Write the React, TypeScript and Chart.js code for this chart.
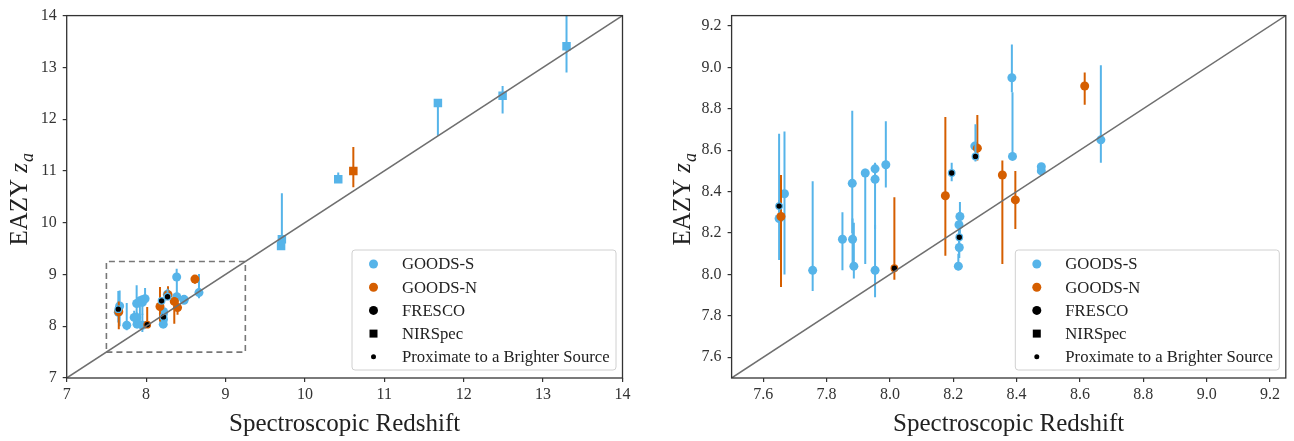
import React, { useEffect, useRef } from "react";
import { Chart, registerables } from "chart.js";

Chart.register(...registerables);

const BLUE = "#56B4E9";
const ORANGE = "#D55E00";
const FONT = "'Liberation Serif', 'DejaVu Serif', serif";

// GOODS-S, circles (spectroscopic z, EAZY z_a, lower / upper error)
const gsZspec = [7.65, 7.667, 7.756, 7.85, 7.881, 7.882, 7.886, 7.922, 7.953, 7.953, 7.953, 7.987, 8.221, 8.218, 8.219, 8.216, 8.385, 8.387, 8.478, 8.478, 8.666, 8.268];
const gsZa = [8.27, 8.39, 8.02, 8.17, 8.44, 8.17, 8.04, 8.49, 8.51, 8.46, 8.02, 8.53, 8.28, 8.24, 8.13, 8.04, 8.95, 8.57, 8.52, 8.5, 8.65, 8.62];
const gsLo = [8.07, 8.0, 7.92, 8.02, 8.2, 8.02, 7.98, 8.05, 8.45, 8.22, 7.89, 8.42, 8.2, 8.1, 8.08, 8.02, 8.88, 8.57, 8.5, 8.49, 8.54, 8.6];
const gsHi = [8.68, 8.69, 8.45, 8.3, 8.79, 8.27, 8.25, 8.51, 8.54, 8.53, 8.24, 8.74, 8.35, 8.3, 8.2, 8.1, 9.11, 8.88, 8.53, 8.51, 9.01, 8.64];

// GOODS-N, circles
const gnZspec = [7.656, 8.175, 8.276, 8.355, 8.396, 8.615];
const gnZa = [8.28, 8.38, 8.61, 8.48, 8.36, 8.91];
const gnLo = [7.94, 8.09, 8.55, 8.05, 8.22, 8.82];
const gnHi = [8.48, 8.76, 8.77, 8.55, 8.5, 8.975];

// FRESCO (black), GOODS-S field
const frsZspec = [7.65, 8.195, 8.219, 8.27];
const frsZa = [8.33, 8.49, 8.18, 8.57];
const frsLo = [8.3, 8.45, 8.16, 8.545];
const frsHi = [8.36, 8.54, 8.2, 8.725];

// FRESCO (black), GOODS-N field
const frnZspec = [8.014];
const frnZa = [8.03];
const frnLo = [7.975];
const frnHi = [8.373];

// NIRSpec, squares, GOODS-S
const nssZspec = [9.7, 9.71, 10.42, 11.675, 12.49, 13.295];
const nssZa = [9.55, 9.68, 10.84, 12.31, 12.45, 13.41];
const nssLo = [9.5, 9.6, 10.8, 11.68, 12.11, 12.9];
const nssHi = [9.62, 10.57, 10.97, 12.34, 12.64, 14.3];

// NIRSpec, squares, GOODS-N
const nsnZspec = [10.61];
const nsnZa = [11.0];
const nsnLo = [10.685];
const nsnHi = [11.46];

// one-to-one line and zoom box
const leftRange = [7, 14];
const rightRange = [7.5, 9.25];
const boxX = [7.5, 9.25, 9.25, 7.5, 7.5];
const boxY = [7.5, 7.5, 9.25, 9.25, 7.5];

// ticks
const leftTicks = [7, 8, 9, 10, 11, 12, 13, 14];
const rightTicks = [7.6, 7.8, 8.0, 8.2, 8.4, 8.6, 8.8, 9.0, 9.2];

const legendLabels = ["GOODS-S", "GOODS-N", "FRESCO", "NIRSpec", "Proximate to a Brighter Source"];
const xTitle = "Spectroscopic Redshift";

function zip(xs: number[], ys: number[], lo: number[], hi: number[]) {
  return xs.map((x, i) => ({ x, y: ys[i], lo: lo[i], hi: hi[i] }));
}

const errorBarPlugin = {
  id: "errbars",
  beforeDatasetDraw(chart: any, args: any) {
    const ds = chart.data.datasets[args.index];
    if (!ds.errColor) return;
    const { ctx, chartArea } = chart;
    const xs = chart.scales.x;
    const ys = chart.scales.y;
    ctx.save();
    ctx.beginPath();
    ctx.rect(chartArea.left, chartArea.top, chartArea.right - chartArea.left, chartArea.bottom - chartArea.top);
    ctx.clip();
    ctx.strokeStyle = ds.errColor;
    ctx.lineWidth = 2;
    ds.data.forEach((p: any) => {
      const px = xs.getPixelForValue(p.x);
      ctx.beginPath();
      ctx.moveTo(px, ys.getPixelForValue(p.lo));
      ctx.lineTo(px, ys.getPixelForValue(p.hi));
      ctx.stroke();
    });
    ctx.restore();
  },
};

const decorPlugin = {
  id: "decor",
  afterDatasetsDraw(chart: any) {
    const { ctx, chartArea } = chart;
    ctx.save();
    ctx.strokeStyle = "#333";
    ctx.lineWidth = 1.3;
    ctx.strokeRect(chartArea.left, chartArea.top, chartArea.right - chartArea.left, chartArea.bottom - chartArea.top);
    ctx.restore();
  },
  afterDraw(chart: any) {
    const { ctx, chartArea } = chart;
    const o = chart.options.plugins.decor;
    // x title
    ctx.save();
    ctx.fillStyle = "#222";
    ctx.font = `${o.titleSize}px ${FONT}`;
    ctx.textAlign = "center";
    ctx.textBaseline = "alphabetic";
    ctx.fillText(xTitle, (chartArea.left + chartArea.right) / 2, o.xTitleY);
    ctx.restore();

    // y title: "EAZY z_a"
    ctx.save();
    const cy = (chartArea.top + chartArea.bottom) / 2 + 3;
    ctx.translate(o.yTitleX, cy);
    ctx.rotate(-Math.PI / 2);
    ctx.fillStyle = "#222";
    const f1 = `${o.titleSize}px ${FONT}`;
    const f2 = `italic ${o.titleSize}px ${FONT}`;
    const f3 = `italic ${Math.round(o.titleSize * 0.7)}px ${FONT}`;
    ctx.font = f1;
    const w1 = ctx.measureText("EAZY ").width;
    ctx.font = f2;
    const w2 = ctx.measureText("z").width;
    ctx.font = f3;
    const w3 = ctx.measureText("a").width;
    let x0 = -(w1 + w2 + w3) / 2;
    ctx.textBaseline = "alphabetic";
    ctx.textAlign = "left";
    ctx.font = f1;
    ctx.fillText("EAZY ", x0, 0);
    ctx.font = f2;
    ctx.fillText("z", x0 + w1, 0);
    ctx.font = f3;
    ctx.fillText("a", x0 + w1 + w2 + 1, o.titleSize * 0.22);
    ctx.restore();

    // legend
    ctx.save();
    const bw = 264;
    const bh = 120;
    const bx = chartArea.right - 6.5 - bw;
    const by = chartArea.bottom - 8 - bh;
    ctx.beginPath();
    ctx.roundRect(bx, by, bw, bh, 3);
    ctx.fillStyle = "rgba(255,255,255,0.85)";
    ctx.fill();
    ctx.strokeStyle = "#d0d0d0";
    ctx.lineWidth = 1;
    ctx.stroke();
    ctx.font = `${o.legendSize}px ${FONT}`;
    ctx.textBaseline = "middle";
    ctx.textAlign = "left";
    legendLabels.forEach((lab, i) => {
      const yy = by + 14 + i * 23.2;
      const mx = bx + 21.5;
      ctx.fillStyle = i === 0 ? BLUE : i === 1 ? ORANGE : "#000";
      ctx.beginPath();
      if (i === 3) {
        ctx.rect(mx - 4, yy - 4, 8, 8);
      } else {
        ctx.arc(mx, yy, i === 4 ? 2.5 : 4.5, 0, Math.PI * 2);
      }
      ctx.fill();
      ctx.fillStyle = "#222";
      ctx.fillText(lab, bx + 50, yy + 1);
    });
    ctx.restore();
  },
};

function makeConfig(range: number[], ticks: number[], decimals: number, yAxisW: number, padRight: number, padTop: number, showBox: boolean, yTitleX: number): any {
  const datasets: any[] = [
    {
      type: "line",
      data: [
        { x: range[0], y: range[0] },
        { x: range[1], y: range[1] },
      ],
      borderColor: "#6f6f6f",
      borderWidth: 1.5,
      pointRadius: 0,
      fill: false,
    },
    {
      data: zip(frsZspec, frsZa, frsLo, frsHi),
      errColor: BLUE,
      backgroundColor: "#000",
      borderColor: BLUE,
      borderWidth: 1.2,
      pointRadius: 3.3,
    },
    {
      data: zip(frnZspec, frnZa, frnLo, frnHi),
      errColor: ORANGE,
      backgroundColor: "#000",
      borderColor: ORANGE,
      borderWidth: 1.2,
      pointRadius: 3.3,
    },
    {
      data: zip(gnZspec, gnZa, gnLo, gnHi),
      errColor: ORANGE,
      backgroundColor: ORANGE,
      borderColor: ORANGE,
      borderWidth: 0,
      pointRadius: 4.5,
    },
    {
      data: zip(nsnZspec, nsnZa, nsnLo, nsnHi),
      errColor: ORANGE,
      backgroundColor: ORANGE,
      borderColor: ORANGE,
      borderWidth: 0,
      pointStyle: "rect",
      pointRadius: 6,
    },
    {
      data: zip(gsZspec, gsZa, gsLo, gsHi),
      errColor: BLUE,
      backgroundColor: BLUE,
      borderColor: BLUE,
      borderWidth: 0,
      pointRadius: 4.5,
    },
    {
      data: zip(nssZspec, nssZa, nssLo, nssHi),
      errColor: BLUE,
      backgroundColor: BLUE,
      borderColor: BLUE,
      borderWidth: 0,
      pointStyle: "rect",
      pointRadius: 6,
    },
  ];
  if (showBox) {
    datasets.push({
      type: "line",
      data: boxX.map((x, i) => ({ x, y: boxY[i] })),
      borderColor: "#777",
      borderWidth: 1.6,
      borderDash: [6, 4],
      pointRadius: 0,
      fill: false,
    });
  }
  const axis = (isX: boolean) => ({
    type: "linear",
    min: range[0],
    max: range[1],
    afterBuildTicks: (scale: any) => {
      scale.ticks = ticks.map((v) => ({ value: v }));
    },
    afterFit: (scale: any) => {
      if (isX) scale.height = 63;
      else scale.width = yAxisW;
    },
    grid: {
      display: true,
      drawOnChartArea: false,
      drawTicks: true,
      tickLength: 4,
      color: "#333",
      lineWidth: 1.2,
    },
    border: { display: false },
    ticks: {
      color: "#333",
      font: { family: FONT, size: 16 },
      padding: isX ? 3 : 6,
      maxRotation: 0,
      autoSkip: false,
      callback: (v: any) => Number(v).toFixed(decimals),
    },
  });
  return {
    type: "scatter",
    data: { datasets },
    options: {
      animation: false,
      responsive: false,
      devicePixelRatio: 1,
      layout: { padding: { left: 0, right: padRight, top: padTop, bottom: 0 } },
      scales: { x: axis(true), y: axis(false) },
      plugins: {
        legend: { display: false },
        tooltip: { enabled: false },
        decor: { titleSize: 25, xTitleY: 431, yTitleX: yTitleX, legendSize: 16.7 },
      },
    },
    plugins: [errorBarPlugin, decorPlugin],
  };
}

function Panel(props: { left: number; width: number; cfg: () => any }) {
  const ref = useRef<HTMLCanvasElement | null>(null);
  useEffect(() => {
    if (!ref.current) return;
    const chart = new Chart(ref.current, props.cfg());
    return () => chart.destroy();
  }, []);
  return (
    <div style={{ position: "absolute", left: props.left, top: 0, width: props.width, height: 441 }}>
      <canvas ref={ref} width={props.width} height={441} style={{ display: "block" }} />
    </div>
  );
}

export default function App() {
  return (
    <div style={{ position: "fixed", left: 0, top: 0, width: 1294, height: 441, background: "#fff" }}>
      <Panel left={0} width={640} cfg={() => makeConfig(leftRange, leftTicks, 0, 66.7, 17.5, 7, true, 27)} />
      <Panel left={650} width={644} cfg={() => makeConfig(rightRange, rightTicks, 1, 81.6, 8.2, 5, false, 40)} />
    </div>
  );
}
